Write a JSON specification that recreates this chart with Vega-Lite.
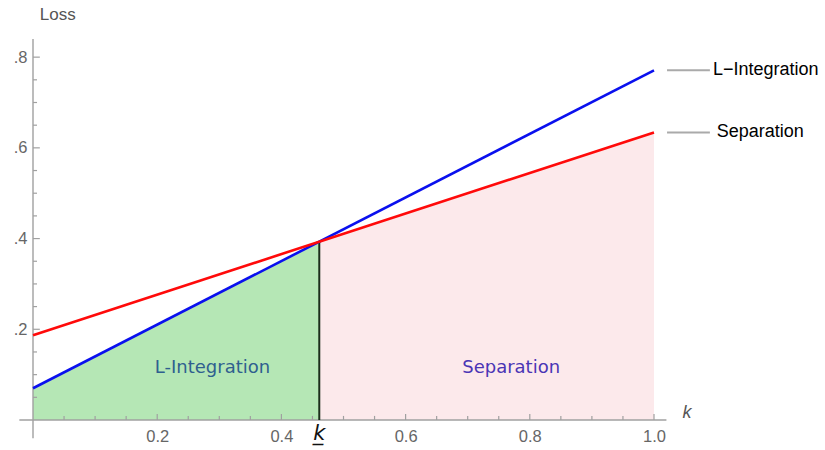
{
  "$schema": "https://vega.github.io/schema/vega-lite/v6.json",
  "autosize": {"type": "none"},
  "padding": {"left": 33, "top": 39, "right": 171, "bottom": 30},
  "width": 621,
  "height": 381,
  "config": {"view": {"stroke": null}},
  "datasets": {
    "green": [{"x": 0, "y": 0.070}, {"x": 0.461, "y": 0.393}],
    "pink": [{"x": 0.461, "y": 0.393}, {"x": 1.0, "y": 0.634}],
    "lines": [
      {"series": "L-Integration", "x": 0, "y": 0.070},
      {"series": "L-Integration", "x": 1.0, "y": 0.771},
      {"series": "Separation", "x": 0, "y": 0.187},
      {"series": "Separation", "x": 1.0, "y": 0.634}
    ],
    "axislines": [
      {"x": -0.022, "x2": 1.02, "y": 0, "y2": 0},
      {"x": 0, "x2": 0, "y": -0.04, "y2": 0.84}
    ],
    "ticks": [
      {"x": 0.2, "x2": 0.2, "y": 0, "y2": 0.013},
      {"x": 0.4, "x2": 0.4, "y": 0, "y2": 0.013},
      {"x": 0.6, "x2": 0.6, "y": 0, "y2": 0.013},
      {"x": 0.8, "x2": 0.8, "y": 0, "y2": 0.013},
      {"x": 1.0, "x2": 1.0, "y": 0, "y2": 0.013},
      {"x": 0.05, "x2": 0.05, "y": 0, "y2": 0.009},
      {"x": 0.1, "x2": 0.1, "y": 0, "y2": 0.009},
      {"x": 0.15, "x2": 0.15, "y": 0, "y2": 0.009},
      {"x": 0.25, "x2": 0.25, "y": 0, "y2": 0.009},
      {"x": 0.3, "x2": 0.3, "y": 0, "y2": 0.009},
      {"x": 0.35, "x2": 0.35, "y": 0, "y2": 0.009},
      {"x": 0.45, "x2": 0.45, "y": 0, "y2": 0.009},
      {"x": 0.5, "x2": 0.5, "y": 0, "y2": 0.009},
      {"x": 0.55, "x2": 0.55, "y": 0, "y2": 0.009},
      {"x": 0.65, "x2": 0.65, "y": 0, "y2": 0.009},
      {"x": 0.7, "x2": 0.7, "y": 0, "y2": 0.009},
      {"x": 0.75, "x2": 0.75, "y": 0, "y2": 0.009},
      {"x": 0.85, "x2": 0.85, "y": 0, "y2": 0.009},
      {"x": 0.9, "x2": 0.9, "y": 0, "y2": 0.009},
      {"x": 0.95, "x2": 0.95, "y": 0, "y2": 0.009},
      {"x": 0, "x2": 0.011, "y": 0.2, "y2": 0.2},
      {"x": 0, "x2": 0.011, "y": 0.4, "y2": 0.4},
      {"x": 0, "x2": 0.011, "y": 0.6, "y2": 0.6},
      {"x": 0, "x2": 0.011, "y": 0.8, "y2": 0.8},
      {"x": 0, "x2": 0.0065, "y": 0.05, "y2": 0.05},
      {"x": 0, "x2": 0.0065, "y": 0.1, "y2": 0.1},
      {"x": 0, "x2": 0.0065, "y": 0.15, "y2": 0.15},
      {"x": 0, "x2": 0.0065, "y": 0.25, "y2": 0.25},
      {"x": 0, "x2": 0.0065, "y": 0.3, "y2": 0.3},
      {"x": 0, "x2": 0.0065, "y": 0.35, "y2": 0.35},
      {"x": 0, "x2": 0.0065, "y": 0.45, "y2": 0.45},
      {"x": 0, "x2": 0.0065, "y": 0.5, "y2": 0.5},
      {"x": 0, "x2": 0.0065, "y": 0.55, "y2": 0.55},
      {"x": 0, "x2": 0.0065, "y": 0.65, "y2": 0.65},
      {"x": 0, "x2": 0.0065, "y": 0.7, "y2": 0.7},
      {"x": 0, "x2": 0.0065, "y": 0.75, "y2": 0.75}
    ],
    "leaders": [
      {"x": 1.021, "x2": 1.09, "y": 0.771, "y2": 0.771},
      {"x": 1.021, "x2": 1.09, "y": 0.634, "y2": 0.634}
    ],
    "endlabels": [
      {"x": 1.095, "y": 0.771, "label": "L−Integration"},
      {"x": 1.101, "y": 0.634, "label": "Separation"}
    ],
    "greenlabel": [{"x": 0.289, "y": 0.115, "label": "L-Integration"}],
    "pinklabel": [{"x": 0.770, "y": 0.115, "label": "Separation"}],
    "kline": [{"x": 0.461, "x2": 0.461, "y": 0, "y2": 0.393}],
    "klabel": [{"x": 0.461, "y": -0.031, "label": "k̲"}],
    "xtitle": [{"x": 1.046, "y": 0.016, "label": "k"}],
    "ytitle": [{"x": 0.011, "y": 0.893, "label": "Loss"}]
  },
  "encoding": {
    "x": {
      "field": "x", "type": "quantitative",
      "scale": {"domain": [0, 1], "nice": false, "zero": false},
      "axis": {
        "values": [0.2, 0.4, 0.6, 0.8, 1.0],
        "labelExpr": "format(datum.value, '.1f')",
        "domain": false, "ticks": false, "grid": false, "title": null,
        "labelColor": "#666666", "labelFontSize": 16.5, "labelFont": "Liberation Sans",
        "labelPadding": 8, "labelFlush": false, "labelOverlap": false
      }
    },
    "y": {
      "field": "y", "type": "quantitative",
      "scale": {"domain": [0, 0.84], "nice": false, "zero": false},
      "axis": {
        "values": [0.2, 0.4, 0.6, 0.8],
        "labelExpr": "replace(format(datum.value, '.1f'), '0.', '.')",
        "domain": false, "ticks": false, "grid": false, "title": null,
        "labelColor": "#666666", "labelFontSize": 16.5, "labelFont": "Liberation Sans",
        "labelPadding": 6, "labelFlush": false, "labelOverlap": false
      }
    }
  },
  "layer": [
    {"data": {"name": "green"}, "mark": {"type": "area", "color": "#b5e7b5", "opacity": 1}, "encoding": {"y2": {"datum": 0}}},
    {"data": {"name": "pink"}, "mark": {"type": "area", "color": "#fce9eb", "opacity": 1}, "encoding": {"y2": {"datum": 0}}},
    {"data": {"name": "axislines"}, "mark": {"type": "rule", "color": "#a0a0a0", "strokeWidth": 1.4}, "encoding": {"x2": {"field": "x2"}, "y2": {"field": "y2"}}},
    {"data": {"name": "ticks"}, "mark": {"type": "rule", "color": "#a0a0a0", "strokeWidth": 1.2}, "encoding": {"x2": {"field": "x2"}, "y2": {"field": "y2"}}},
    {"data": {"name": "kline"}, "mark": {"type": "rule", "color": "#1b2e1b", "strokeWidth": 2}, "encoding": {"x2": {"field": "x2"}, "y2": {"field": "y2"}}},
    {"data": {"name": "lines"}, "mark": {"type": "line", "strokeWidth": 2.6},
     "encoding": {"detail": {"field": "series"}, "color": {"field": "series", "type": "nominal", "scale": {"domain": ["L-Integration", "Separation"], "range": ["#0a10ee", "#ff0a0a"]}, "legend": null}}},
    {"data": {"name": "leaders"}, "mark": {"type": "rule", "color": "#aaaaaa", "strokeWidth": 2}, "encoding": {"x2": {"field": "x2"}, "y2": {"field": "y2"}}},
    {"data": {"name": "endlabels"}, "mark": {"type": "text", "align": "left", "baseline": "middle", "font": "Liberation Sans", "fontSize": 18, "color": "#000000"}, "encoding": {"text": {"field": "label"}}},
    {"data": {"name": "greenlabel"}, "mark": {"type": "text", "align": "center", "baseline": "middle", "font": "DejaVu Sans", "fontSize": 18, "color": "#2f5f8f"}, "encoding": {"text": {"field": "label"}}},
    {"data": {"name": "pinklabel"}, "mark": {"type": "text", "align": "center", "baseline": "middle", "font": "DejaVu Sans", "fontSize": 18, "color": "#4a35b5"}, "encoding": {"text": {"field": "label"}}},
    {"data": {"name": "klabel"}, "mark": {"type": "text", "align": "center", "baseline": "middle", "font": "DejaVu Sans", "fontSize": 21, "fontStyle": "italic", "color": "#111111"}, "encoding": {"text": {"field": "label"}}},
    {"data": {"name": "xtitle"}, "mark": {"type": "text", "align": "left", "baseline": "middle", "font": "Liberation Sans", "fontSize": 18, "fontStyle": "italic", "color": "#555555"}, "encoding": {"text": {"field": "label"}}},
    {"data": {"name": "ytitle"}, "mark": {"type": "text", "align": "left", "baseline": "middle", "font": "Liberation Sans", "fontSize": 17, "color": "#555555"}, "encoding": {"text": {"field": "label"}}}
  ]
}
